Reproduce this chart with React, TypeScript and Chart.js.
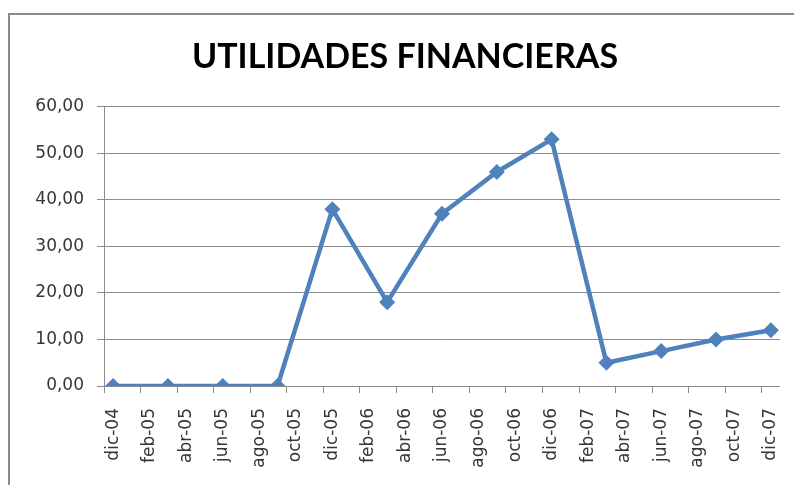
import React, { useEffect, useRef } from 'react';
import { Chart, registerables } from 'chart.js';

Chart.register(...registerables);

const TITLE = 'UTILIDADES FINANCIERAS';

// month offsets counted from dic-04
const tickMonths = [0, 2, 4, 6, 8, 10, 12, 14, 16, 18, 20, 22, 24, 26, 28, 30, 32, 34, 36];
const tickLabels = [
  'dic-04', 'feb-05', 'abr-05', 'jun-05', 'ago-05', 'oct-05', 'dic-05',
  'feb-06', 'abr-06', 'jun-06', 'ago-06', 'oct-06', 'dic-06',
  'feb-07', 'abr-07', 'jun-07', 'ago-07', 'oct-07', 'dic-07',
];
// boundaries between the two-month label groups (tick marks)
const tickMarkMonths = [-0.5, 1.5, 3.5, 5.5, 7.5, 9.5, 11.5, 13.5, 15.5, 17.5, 19.5, 21.5, 23.5, 25.5, 27.5, 29.5, 31.5, 33.5, 35.5];

const pointMonths = [0, 3, 6, 9, 12, 15, 18, 21, 24, 27, 30, 33, 36];
const values = [0, 0, 0, 0, 38, 18, 37, 46, 53, 5, 7.5, 10, 12];

const yTicks = [0, 10, 20, 30, 40, 50, 60];

const AXIS_MIN = -0.5;
const AXIS_MAX = 36.5;

const LINE_COLOR = '#4F81BD';
const GRID_COLOR = '#8c8c8c';
const TEXT_COLOR = '#363636';

export default function App() {
  const canvasRef = useRef<HTMLCanvasElement | null>(null);

  useEffect(() => {
    if (!canvasRef.current) return;
    const labelFor = (v: number) => {
      const i = tickMonths.indexOf(v);
      return i >= 0 ? tickLabels[i] : '';
    };
    const chart = new Chart(canvasRef.current, {
      type: 'line',
      data: {
        datasets: [
          {
            label: TITLE,
            data: pointMonths.map((m, i) => ({ x: m, y: values[i] })),
            borderColor: LINE_COLOR,
            backgroundColor: LINE_COLOR,
            borderWidth: 4.5,
            pointStyle: 'rectRot',
            pointRadius: 8,
            pointBackgroundColor: LINE_COLOR,
            pointBorderColor: LINE_COLOR,
            pointBorderWidth: 0,
            tension: 0,
            xAxisID: 'x',
            yAxisID: 'y',
          },
        ],
      },
      options: {
        animation: false,
        responsive: true,
        maintainAspectRatio: false,
        layout: { padding: { left: 30, right: 14, top: 0, bottom: 0 } },
        plugins: {
          legend: { display: false },
          tooltip: { enabled: false },
          title: {
            display: true,
            text: TITLE,
            color: '#000000',
            font: { family: 'Lato', size: 34, weight: 'bold' },
            padding: { top: 37, bottom: 29 },
          },
        },
        scales: {
          xt: {
            type: 'linear',
            axis: 'x',
            position: 'bottom',
            weight: 0,
            min: AXIS_MIN,
            max: AXIS_MAX,
            afterBuildTicks: (scale: any) => {
              scale.ticks = tickMarkMonths.map((v) => ({ value: v }));
            },
            afterFit: (scale: any) => {
              scale.paddingLeft = 0;
              scale.paddingRight = 0;
            },
            grid: {
              display: true,
              drawOnChartArea: false,
              drawTicks: true,
              tickLength: 7,
              color: GRID_COLOR,
              lineWidth: 1,
            },
            border: { display: false },
            ticks: { display: false },
          },
          x: {
            type: 'linear',
            position: 'bottom',
            weight: 1,
            min: AXIS_MIN,
            max: AXIS_MAX,
            afterBuildTicks: (scale: any) => {
              scale.ticks = tickMonths.map((v) => ({ value: v }));
            },
            afterFit: (scale: any) => {
              scale.height = 92;
              scale.paddingLeft = 0;
              scale.paddingRight = 0;
            },
            grid: { display: false, drawTicks: false },
            border: { display: false },
            ticks: {
              autoSkip: false,
              maxRotation: 90,
              minRotation: 90,
              padding: 15,
              color: TEXT_COLOR,
              font: { family: 'DejaVu Sans', size: 17 },
              callback: (v: any) => labelFor(Number(v)),
            },
          },
          y: {
            type: 'linear',
            position: 'left',
            min: 0,
            max: 60,
            afterBuildTicks: (scale: any) => {
              scale.ticks = yTicks.map((v) => ({ value: v }));
            },
            afterFit: (scale: any) => {
              scale.width = 74;
            },
            grid: {
              color: GRID_COLOR,
              lineWidth: 1,
              drawTicks: true,
              tickLength: 7,
            },
            border: { display: true, color: GRID_COLOR, width: 1 },
            ticks: {
              padding: 13,
              color: TEXT_COLOR,
              font: { family: 'DejaVu Sans', size: 17 },
              callback: (v: any) => Number(v).toFixed(2).replace('.', ','),
            },
          },
        },
      },
    } as any);
    return () => chart.destroy();
  }, []);

  return (
    <div style={{ position: 'absolute', left: 0, top: 0, width: 794, height: 485, overflow: 'hidden', background: '#ffffff' }}>
      <div
        style={{
          position: 'absolute',
          left: 8,
          top: 13,
          width: 786,
          height: 472,
          boxSizing: 'border-box',
          borderLeft: '2px solid #8a8a8a',
          borderTop: '2px solid #8a8a8a',
        }}
      />
      <div style={{ position: 'absolute', left: 0, top: 0, width: 794, height: 485 }}>
        <canvas ref={canvasRef} />
      </div>
    </div>
  );
}
